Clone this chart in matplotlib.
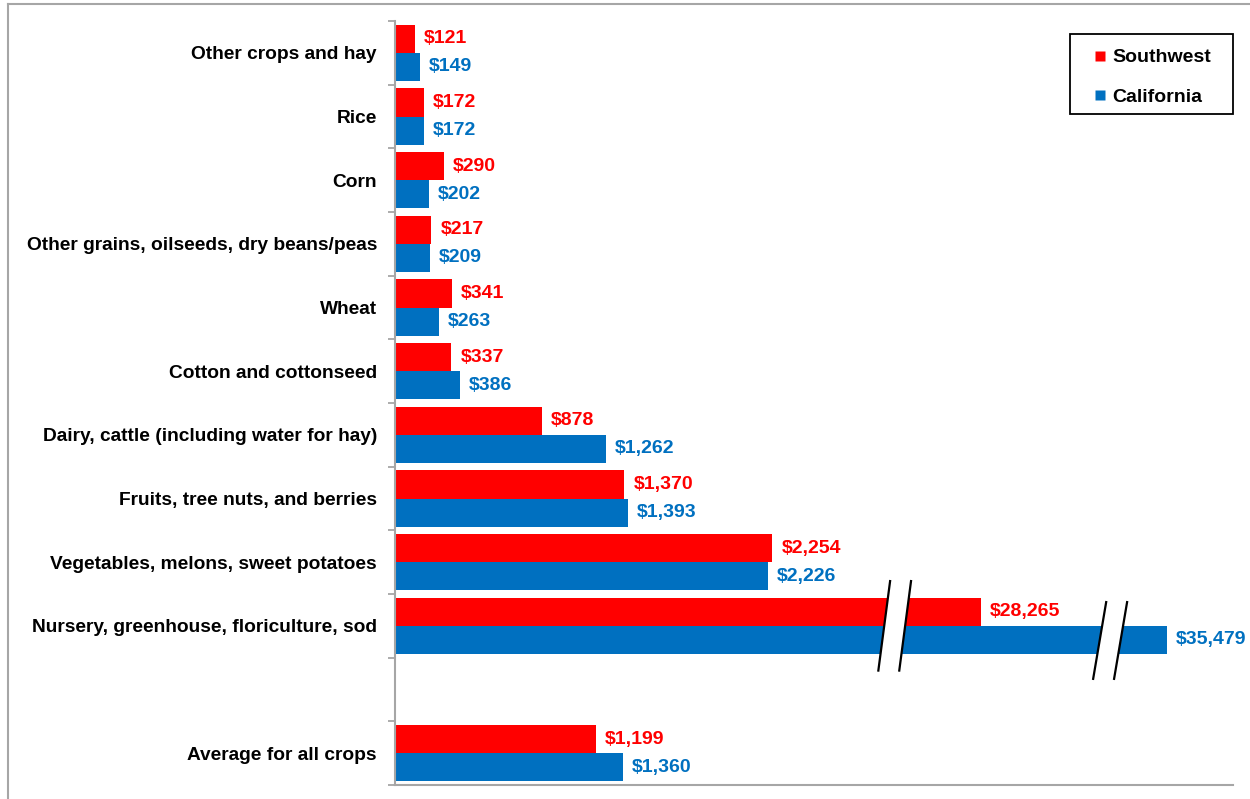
import matplotlib
matplotlib.use("Agg")
import matplotlib.pyplot as plt
from matplotlib.lines import Line2D
from matplotlib.patches import Polygon, Rectangle

plt.rcParams['font.family'] = ['Liberation Sans', 'DejaVu Sans']

categories = [
    "Other crops and hay",
    "Rice",
    "Corn",
    "Other grains, oilseeds, dry beans/peas",
    "Wheat",
    "Cotton and cottonseed",
    "Dairy, cattle (including water for hay)",
    "Fruits, tree nuts, and berries",
    "Vegetables, melons, sweet potatoes",
    "Nursery, greenhouse, floriculture, sod",
    "",
    "Average for all crops",
]
southwest = [121, 172, 290, 217, 341, 337, 878, 1370, 2254, 28265, None, 1199]
california = [149, 172, 202, 209, 263, 386, 1262, 1393, 2226, 35479, None, 1360]
# Broken-axis display lengths for the oversized Nursery bars
display_cap_sw = 3500
display_cap_ca = 4610

RED = "#FF0000"
BLUE = "#0070C0"
GREY = "#A6A6A6"
FS = 14
FS_CAT = 13.8

W, H = 1250, 799
AX_L, AX_R, AX_T, AX_B = 395, 1233, 21, 785
AXW, AXH = AX_R - AX_L, AX_B - AX_T

fig = plt.figure(figsize=(12.5, 7.99), dpi=100)
ax = fig.add_axes([AX_L / W, 1 - AX_B / H, AXW / W, AXH / H])

bh = 0.44
for i, (sw, ca) in enumerate(zip(southwest, california)):
    if sw is None:
        continue
    sw_len = min(sw, display_cap_sw)
    ca_len = min(ca, display_cap_ca)
    ax.barh(i - bh / 2, sw_len, height=bh, color=RED, edgecolor="none")
    ax.barh(i + bh / 2, ca_len, height=bh, color=BLUE, edgecolor="none")
    ax.annotate(f"${sw:,}", xy=(sw_len, i - bh / 2), xytext=(6.5, 0),
                textcoords="offset points", va="center", ha="left",
                color=RED, fontsize=FS, fontweight="bold")
    ax.annotate(f"${ca:,}", xy=(ca_len, i + bh / 2), xytext=(6.5, 0),
                textcoords="offset points", va="center", ha="left",
                color=BLUE, fontsize=FS, fontweight="bold")

# Break marks on the Nursery bars
def break_mark(xc, yc, half_h, gap=125, slant=72):
    x1 = xc - gap / 2
    x2 = xc + gap / 2
    y_top = yc - half_h
    y_bot = yc + half_h
    poly = Polygon([(x1 + slant / 2, y_top), (x2 + slant / 2, y_top),
                    (x2 - slant / 2, y_bot), (x1 - slant / 2, y_bot)],
                   closed=True, facecolor="white", edgecolor="none", zorder=3)
    ax.add_patch(poly)
    for x in (x1, x2):
        ax.plot([x + slant / 2, x - slant / 2], [y_top, y_bot], color="black",
                lw=1.6, zorder=4, solid_capstyle="butt")

nursery = 9
break_mark(2985, nursery, 0.72)
break_mark(4272, nursery + 0.23, 0.62, slant=80)

ax.set_xlim(0, 5006)
ax.set_ylim(11.5, -0.5)

ax.set_yticks([i - 0.5 for i in range(13)])
ax.set_yticklabels([])
ax.tick_params(axis="y", which="major", length=5, width=1.3, color=GREY, direction="out")
ax.set_yticks(range(12), minor=True)
ax.set_yticklabels(categories, minor=True, fontsize=FS_CAT, fontweight="bold")
ax.tick_params(axis="y", which="minor", length=0, pad=13)
ax.set_xticks([])

for s in ("top", "right"):
    ax.spines[s].set_visible(False)
for s in ("left", "bottom"):
    ax.spines[s].set_color(GREY)
    ax.spines[s].set_linewidth(1.5)

# Legend (frame drawn separately)
handles = [Line2D([], [], marker="s", linestyle="none", markersize=6.6,
                  markerfacecolor=c, markeredgecolor="none") for c in (RED, BLUE)]
leg = ax.legend(handles, ["Southwest", "California"], loc="upper left",
                bbox_to_anchor=((1090.5 - AX_L) / AXW, (AX_B - 48.7) / AXH),
                frameon=False, prop={"size": FS, "weight": "bold"},
                handlelength=1.0, handletextpad=0.13, labelspacing=1.15,
                borderpad=0, borderaxespad=0)
ax.add_patch(Rectangle(((1070 - AX_L) / AXW, (AX_B - 114) / AXH), 163 / AXW, 80 / AXH,
                       transform=ax.transAxes, facecolor="none", edgecolor="black",
                       lw=1.3, clip_on=False, zorder=5))

# Outer chart frame (top and left edges)
fig.add_artist(Line2D([8 / W, 1], [1 - 4 / H, 1 - 4 / H], color=GREY, lw=1.5,
                      transform=fig.transFigure))
fig.add_artist(Line2D([8 / W, 8 / W], [0, 1 - 4 / H], color=GREY, lw=1.5,
                      transform=fig.transFigure))

fig.savefig("out.png", dpi=100)
